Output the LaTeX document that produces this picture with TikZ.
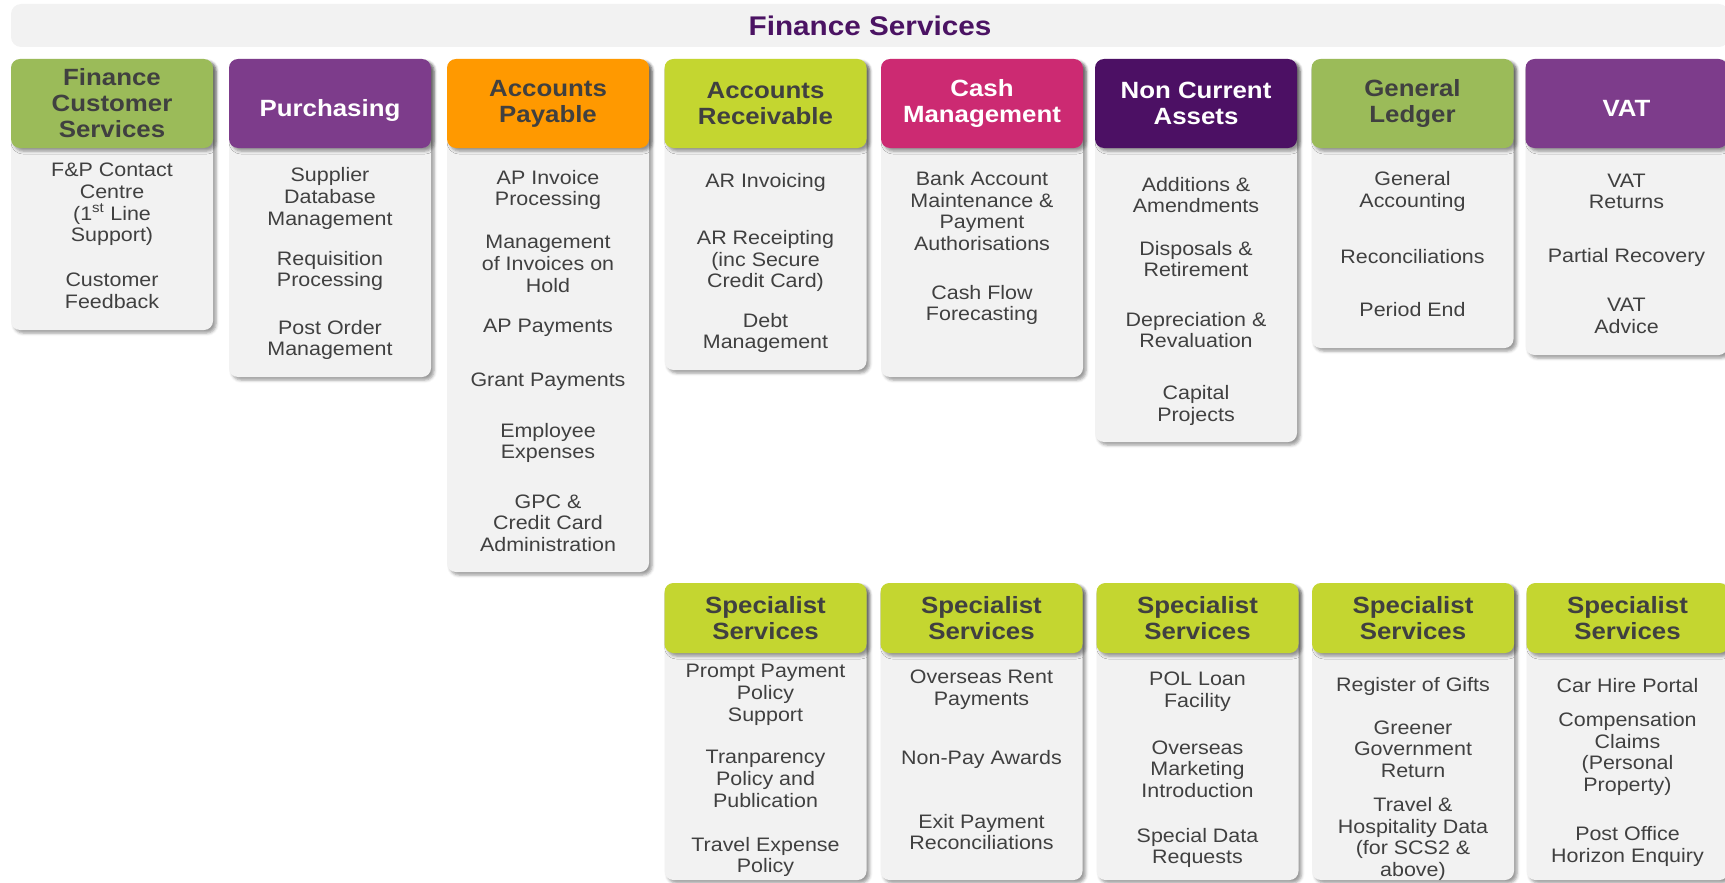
\documentclass[tikz,border=0pt]{standalone}
\usepackage{fontspec}
\setmainfont{Liberation Sans}[FakeStretch=1.1]
\usepackage{xcolor}
\usepackage{tikz}
\usetikzlibrary{positioning,backgrounds,shadows.blur}

\definecolor{fsgreen}{HTML}{9BBB59}
\definecolor{fspurple}{HTML}{7D3C8B}
\definecolor{fsorange}{HTML}{FF9900}
\definecolor{fslime}{HTML}{C4D630}
\definecolor{fspink}{HTML}{CC2A72}
\definecolor{fsplum}{HTML}{4C1064}
\definecolor{fsgrey}{HTML}{F2F2F2}
\definecolor{fstext}{HTML}{404040}
\definecolor{fstitle}{HTML}{4B1363}

\tikzset{
  boxshadow/.style={blur shadow={shadow xshift=3pt, shadow yshift=-3pt, shadow blur radius=3pt, shadow opacity=40}},
  head/.style={rounded corners=9pt, minimum width=202pt, minimum height=89pt, inner sep=0pt,
    align=center, text=fstext, font=\fontsize{23.5}{26}\selectfont\bfseries, boxshadow},
  onehead/.style={head, text height=30pt, text depth=5pt},
  whitehead/.style={text=white},
  spechead/.style={head, fill=fslime, minimum height=70pt},
  body/.style={rounded corners=9pt, minimum width=202pt, fill=fsgrey, boxshadow},
  item/.style={align=center, text=fstext, inner sep=0pt, font=\fontsize{19.5}{21.7}\selectfont},
}

\begin{document}
\begin{tikzpicture}[x=1pt, y=-1pt, node distance=216.3pt]
\useasboundingbox (0,0) rectangle (1725,883);

\node[rounded corners=10pt, fill=fsgrey, minimum width=1718pt, minimum height=43pt, inner sep=0pt,
  text=fstitle, font=\fontsize{27}{30}\selectfont\bfseries] (fin) at (870,25.5) {Finance Services};

% top row
\node[head, fill=fsgreen] (fcs) at (112,103.5) {Finance\\Customer\\Services};
\node[onehead, whitehead, fill=fspurple] (pur) [right of=fcs, node distance=218pt] {Purchasing};
\node[head, fill=fsorange] (ap) [right of=pur, node distance=218pt] {Accounts\\Payable};
\node[head, fill=fslime] (ar) [right of=ap, node distance=217.5pt] {Accounts\\Receivable};
\node[head, whitehead, fill=fspink] (cash) [right of=ar, node distance=216.5pt] {Cash\\Management};
\node[head, whitehead, fill=fsplum] (nca) [right of=cash, node distance=214pt] {Non Current\\Assets};
\node[head, fill=fsgreen] (gl) [right of=nca, node distance=216.5pt] {General\\Ledger};
\node[onehead, whitehead, fill=fspurple] (vat) [right of=gl, node distance=214pt] {VAT};

% specialist row
\node[spechead] (ss1) [below of=ar, node distance=514.5pt] {Specialist\\Services};
\node[spechead] (ss2) [right of=ss1, node distance=216pt] {Specialist\\Services};
\node[spechead] (ss3) [right of=ss2, node distance=216pt] {Specialist\\Services};
\node[spechead] (ss4) [right of=ss3, node distance=215.5pt] {Specialist\\Services};
\node[spechead] (ss5) [right of=ss4, node distance=214.5pt] {Specialist\\Services};

\begin{scope}[on background layer]
\node[body, minimum height=271pt, anchor=north] (fcsbody) at (fcs.north) {};
\node[body, minimum height=318pt, anchor=north] (purbody) at (pur.north) {};
\node[body, minimum height=513pt, anchor=north] (apbody) at (ap.north) {};
\node[body, minimum height=311pt, anchor=north] (arbody) at (ar.north) {};
\node[body, minimum height=318pt, anchor=north] (cashbody) at (cash.north) {};
\node[body, minimum height=383pt, anchor=north] (ncabody) at (nca.north) {};
\node[body, minimum height=289pt, anchor=north] (glbody) at (gl.north) {};
\node[body, minimum height=296pt, anchor=north] (vatbody) at (vat.north) {};
\node[body, minimum height=297pt, anchor=north] (ss1body) at (ss1.north) {};
\node[body, minimum height=297pt, anchor=north] (ss2body) at (ss2.north) {};
\node[body, minimum height=297pt, anchor=north] (ss3body) at (ss3.north) {};
\node[body, minimum height=297pt, anchor=north] (ss4body) at (ss4.north) {};
\node[body, minimum height=297pt, anchor=north] (ss5body) at (ss5.north) {};
\end{scope}

% finance customer services
\node[item] (fcs1) [below of=fcs, node distance=101pt] {F\&P Contact\\Centre\\(1\textsuperscript{st} Line\\Support)};
\node[item] (fcs2) [below of=fcs, node distance=187.5pt] {Customer\\Feedback};

% purchasing
\node[item] (pur1) [below of=pur, node distance=95pt] {Supplier\\Database\\Management};
\node[item] (pur2) [below of=pur, node distance=167.5pt] {Requisition\\Processing};
\node[item] (pur3) [below of=pur, node distance=236.5pt] {Post Order\\Management};

% accounts payable
\node[item] (ap1) [below of=ap, node distance=86.5pt] {AP Invoice\\Processing};
\node[item] (ap2) [below of=ap, node distance=160.5pt] {Management\\of Invoices on\\Hold};
\node[item] (ap3) [below of=ap, node distance=224.5pt] {AP Payments};
\node[item] (ap4) [below of=ap, node distance=278.5pt] {Grant Payments};
\node[item] (ap5) [below of=ap, node distance=339.5pt] {Employee\\Expenses};
\node[item] (ap6) [below of=ap, node distance=419.5pt] {GPC \&\\Credit Card\\Administration};

% accounts receivable
\node[item] (ar1) [below of=ar, node distance=78.5pt] {AR Invoicing};
\node[item] (ar2) [below of=ar, node distance=157.5pt] {AR Receipting\\(inc Secure\\Credit Card)};
\node[item] (ar3) [below of=ar, node distance=229.5pt] {Debt\\Management};

% cash management
\node[item] (cash1) [below of=cash, node distance=107.5pt] {Bank Account\\Maintenance \&\\Payment\\Authorisations};
\node[item] (cash2) [below of=cash, node distance=201.5pt] {Cash Flow\\Forecasting};

% non current assets
\node[item] (nca1) [below of=nca, node distance=91.5pt] {Additions \&\\Amendments};
\node[item] (nca2) [below of=nca, node distance=155.5pt] {Disposals \&\\Retirement};
\node[item] (nca3) [below of=nca, node distance=226.5pt] {Depreciation \&\\Revaluation};
\node[item] (nca4) [below of=nca, node distance=302pt] {Capital\\Projects};

% general ledger
\node[item] (gl1) [below of=gl, node distance=88pt] {General\\Accounting};
\node[item] (gl2) [below of=gl, node distance=153.5pt] {Reconciliations};
\node[item] (gl3) [below of=gl, node distance=206.5pt] {Period End};

% vat
\node[item] (vat1) [below of=vat, node distance=88pt] {VAT\\Returns};
\node[item] (vat2) [below of=vat, node distance=153.5pt] {Partial Recovery};
\node[item] (vat3) [below of=vat, node distance=212.5pt] {VAT\\Advice};

% specialist services
\node[item] (ss11) [below of=ss1, node distance=77pt] {Prompt Payment\\Policy\\Support};
\node[item] (ss12) [below of=ss1, node distance=161pt] {Tranparency\\Policy and\\Publication};
\node[item] (ss13) [below of=ss1, node distance=239pt] {Travel Expense\\Policy};

\node[item] (ss21) [below of=ss2, node distance=72pt] {Overseas Rent\\Payments};
\node[item] (ss22) [below of=ss2, node distance=141pt] {Non-Pay Awards};
\node[item] (ss23) [below of=ss2, node distance=214pt] {Exit Payment\\Reconciliations};

\node[item] (ss31) [below of=ss3, node distance=74pt] {POL Loan\\Facility};
\node[item] (ss32) [below of=ss3, node distance=151pt] {Overseas\\Marketing\\Introduction};
\node[item] (ss33) [below of=ss3, node distance=230pt] {Special Data\\Requests};

\node[item] (ss41) [below of=ss4, node distance=68pt] {Register of Gifts};
\node[item] (ss42) [below of=ss4, node distance=131pt] {Greener\\Government\\Return};
\node[item] (ss43) [below of=ss4, node distance=221pt] {Travel \&\\Hospitality Data\\(for SCS2 \&\\above)};

\node[item] (ss51) [below of=ss5, node distance=68pt] {Car Hire Portal};
\node[item] (ss52) [below of=ss5, node distance=136pt] {Compensation\\Claims\\(Personal\\Property)};
\node[item] (ss53) [below of=ss5, node distance=228.5pt] {Post Office\\Horizon Enquiry};
\end{tikzpicture}
\end{document}
